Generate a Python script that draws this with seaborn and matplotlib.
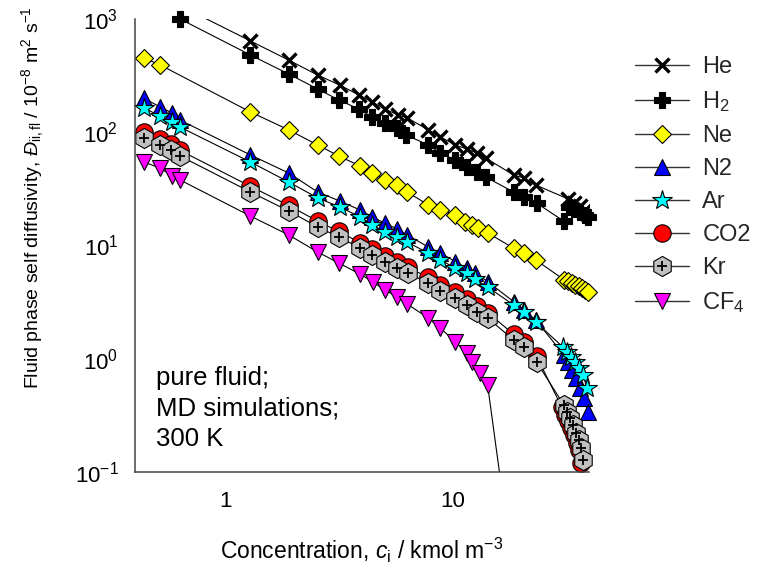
import matplotlib
matplotlib.use("Agg")
import matplotlib.pyplot as plt
from matplotlib.ticker import FixedLocator, FixedFormatter, LogLocator, NullFormatter
from matplotlib.lines import Line2D
import seaborn as sns

sns.set_theme(style="white")
plt.rcParams["font.family"] = ["Liberation Sans", "DejaVu Sans"]
plt.rcParams["mathtext.fontset"] = "custom"
plt.rcParams["mathtext.rm"] = "Liberation Sans"
plt.rcParams["mathtext.it"] = "Liberation Sans:italic"
plt.rcParams["mathtext.bf"] = "Liberation Sans:bold"
plt.rcParams["mathtext.default"] = "regular"

# ---- self diffusivities (10^-8 m2/s) vs concentration (kmol/m3), 300 K ----
he_c = [0.632, 1.29, 1.90, 2.55, 3.19, 3.88, 4.43, 5.05, 5.77, 6.33, 7.83, 8.85,
        10.3, 11.6, 12.8, 14.0, 18.6, 20.6, 23.3, 32.3, 34.3, 36.5, 38.4, 39.5]
he_d = [1310, 640, 434, 320, 261, 213, 185, 160, 142, 134, 105, 90.8,
        77.2, 71.1, 65.7, 59.3, 42.0, 39.5, 34.2, 25.8, 23.7, 22.3, 20.5, 18.9]

h2_c = [0.632, 1.29, 1.90, 2.55, 3.16, 3.88, 4.43, 5.05, 5.71, 6.26, 7.83, 8.85,
        10.3, 11.6, 12.8, 14.0, 18.6, 20.6, 23.5, 31.0, 32.6, 34.5, 36.5, 38.4, 39.5]
h2_d = [1000, 481, 327, 241, 193, 160, 136, 121, 109, 94.6, 77.2, 65.7,
        56.9, 49.3, 44.6, 40.3, 29.7, 26.8, 23.7, 16.4, 22.0, 20.8, 19.6, 18.6, 17.8]

ne_c = [0.438, 0.516, 1.29, 1.90, 2.55, 3.16, 3.92, 4.43, 5.05, 5.71, 6.33, 7.83,
        8.85, 10.3, 11.4, 12.2, 13.0, 14.3, 18.6, 20.6, 23.3,
        31.0, 32.3, 33.6, 34.8, 36.0, 37.2, 38.3, 39.4]
ne_d = [453, 393, 151, 105, 77.2, 61.7, 50.4, 43.7, 37.9, 34.2, 29.7, 22.8,
        20.6, 18.6, 16.1, 15.2, 14.3, 12.9, 9.5, 8.6, 7.45,
        5.0, 4.85, 4.7, 4.5, 4.35, 4.2, 4.05, 3.85]

n2_c = [0.438, 0.516, 0.583, 0.632, 1.29, 1.90, 2.55, 3.19, 3.92, 4.43, 5.05, 5.71,
        6.33, 7.83, 8.85, 10.3, 11.6, 12.6, 14.3, 18.6, 20.6, 23.3,
        31.0, 32.3, 33.6, 35.0, 36.5, 38.0, 39.6]
n2_d = [200, 167, 148, 128, 63.0, 43.7, 29.7, 24.7, 20.6, 17.9, 15.7, 14.0,
        12.4, 9.7, 8.6, 7.2, 6.3, 5.7, 4.8, 3.2, 2.7, 2.2,
        1.08, 0.935, 0.80, 0.68, 0.555, 0.45, 0.34]

ar_c = [0.438, 0.516, 0.583, 0.632, 1.29, 1.90, 2.55, 3.19, 3.92, 4.43, 5.05, 5.71,
        6.33, 7.83, 8.85, 10.3, 11.6, 12.6, 14.3, 18.6, 20.6, 23.3,
        30.7, 32.0, 33.3, 34.7, 36.1, 37.6, 39.2]
ar_d = [164, 139, 123, 111, 54.6, 36.4, 26.3, 21.9, 17.9, 15.2, 13.2, 11.9,
        10.7, 8.59, 7.45, 6.33, 5.71, 5.06, 4.30, 2.99, 2.59, 2.11,
        1.27, 1.15, 1.04, 0.935, 0.83, 0.72, 0.55]

co2_c = [0.438, 0.516, 0.577, 0.632, 1.29, 1.90, 2.55, 3.16, 3.92, 4.43, 5.05, 5.71,
         6.38, 7.83, 8.85, 10.3, 11.6, 12.9, 14.3, 18.6, 20.6, 23.5,
         30.4, 31.3, 32.2, 33.2, 34.2, 35.3, 36.2, 36.9]
co2_d = [100, 86.5, 78.1, 69.1, 33.3, 22.6, 16.4, 13.3, 10.6, 9.23, 8.0, 7.09,
         6.40, 5.22, 4.44, 3.85, 3.35, 2.90, 2.56, 1.65, 1.42, 1.05,
         0.372, 0.321, 0.282, 0.245, 0.211, 0.182, 0.155, 0.12]

kr_c = [0.438, 0.516, 0.577, 0.632, 1.29, 1.90, 2.55, 3.16, 3.92, 4.43, 5.05, 5.71,
        6.38, 7.83, 8.85, 10.3, 11.6, 12.9, 14.3, 18.6, 20.6, 23.5,
        31.0, 31.9, 32.9, 33.9, 34.9, 36.0, 36.9, 37.6]
kr_d = [89.0, 77.2, 69.7, 61.7, 29.7, 20.2, 14.6, 11.9, 9.5, 8.24, 7.14, 6.33,
        5.71, 4.66, 3.96, 3.44, 2.99, 2.59, 2.29, 1.47, 1.27, 0.935,
        0.391, 0.338, 0.297, 0.258, 0.222, 0.192, 0.163, 0.127]

cf4_c = [0.438, 0.516, 0.583, 0.632, 1.29, 1.90, 2.55, 3.16, 3.92, 4.47, 5.05, 5.71,
         6.33, 7.83, 8.85, 10.3, 11.6, 12.2, 13.3, 14.3, 16.9]
cf4_d = [54.6, 48.3, 41.1, 37.9, 18.2, 12.4, 8.77, 7.0, 5.6, 4.76, 4.05, 3.51,
         3.04, 2.29, 1.87, 1.41, 1.12, 0.935, 0.748, 0.586, 0.05]

labels = ["He", "H$_2$", "Ne", "N2", "Ar", "CO2", "Kr", "CF$_4$"]

# marker style per species: (marker, face colour, size, edge width)
styles = {
    "He":     ("x", "black", 10.5, 2.4),
    "H$_2$":  ("P", "black", 11.0, 0.8),
    "Ne":     ("D", "#ffff00", 9.0, 0.8),
    "N2":     ("^", "#0000ff", 11.5, 0.8),
    "Ar":     ("*", "#00ffff", 15.0, 0.8),
    "CO2":    ("o", "#ff0000", 12.5, 0.8),
    "Kr":     ("h", "#c0c0c0", 14.5, 0.8),
    "CF$_4$": ("v", "#ff00ff", 12.0, 0.8),
}
data = {
    "He": (he_c, he_d), "H$_2$": (h2_c, h2_d), "Ne": (ne_c, ne_d),
    "N2": (n2_c, n2_d), "Ar": (ar_c, ar_d), "CO2": (co2_c, co2_d),
    "Kr": (kr_c, kr_d), "CF$_4$": (cf4_c, cf4_d),
}
# series whose runs leave the plotted range are clipped at the frame
clipped = {"He", "CF$_4$"}

fig = plt.figure(figsize=(7.69, 5.69), dpi=100)
ax = fig.add_axes([135 / 769, 1 - 472 / 569, 454 / 769, 453 / 569])

handles = []
for lab in labels:
    c, d = data[lab]
    m, fc, ms, mew = styles[lab]
    sns.lineplot(x=c, y=d, ax=ax, sort=False, estimator=None, color="black",
                 linewidth=0.8, marker=m, markersize=ms, markerfacecolor=fc,
                 markeredgecolor="black", markeredgewidth=mew, legend=False,
                 clip_on=(lab in clipped))
    h = Line2D([], [], color="#333333", linewidth=1.0, marker=m, markersize=ms,
               markerfacecolor=fc, markeredgecolor="black", markeredgewidth=mew)
    if lab == "Kr":
        sns.scatterplot(x=c, y=d, ax=ax, marker="+", color="black", s=45,
                        linewidth=1.3, legend=False, zorder=3, clip_on=False)
        hp = Line2D([], [], linestyle="none", marker="+", markersize=6.7,
                    color="black", markeredgewidth=1.3)
        h = (h, hp)
    handles.append(h)

ax.set_xscale("log")
ax.set_yscale("log")
ax.set_xlim(0.4, 40)
ax.set_ylim(0.1, 1000)

ax.xaxis.set_major_locator(FixedLocator([1, 10]))
ax.xaxis.set_major_formatter(FixedFormatter(["1", "10"]))
ax.xaxis.set_minor_locator(LogLocator(base=10, subs=range(2, 10)))
ax.xaxis.set_minor_formatter(NullFormatter())
ax.yaxis.set_major_locator(LogLocator(base=10, numticks=10))
ax.yaxis.set_minor_locator(LogLocator(base=10, subs=range(2, 10), numticks=20))
ax.yaxis.set_minor_formatter(NullFormatter())

axis_col = "#444444"
for s in ["top", "right"]:
    ax.spines[s].set_visible(False)
for s in ["left", "bottom"]:
    ax.spines[s].set_color(axis_col)
    ax.spines[s].set_linewidth(1.1)
ax.tick_params(which="both", direction="in", colors=axis_col, top=False, right=False)
ax.tick_params(which="major", length=7, width=1.0)
ax.tick_params(which="minor", length=5, width=0.9)
ax.tick_params(axis="x", which="major", pad=14, labelsize=16, labelcolor="black")
ax.tick_params(axis="y", which="major", pad=12, labelsize=16, labelcolor="black")

ax.set_xlabel("Concentration, $\\mathit{c}_\\mathrm{i}$ / kmol m$^{-3}$",
              fontsize=16.5, color="black")
ax.xaxis.set_label_coords(0.5, -0.14)
ax.set_ylabel("Fluid phase self diffusivity, $\\mathit{Đ}_\\mathrm{ii,fl}$ / 10$^{-8}$ m$^2$ s$^{-1}$",
              fontsize=14, color="black")
ax.yaxis.set_label_coords(-0.195, 0.605)

ax.text(0.046, 0.235, "pure fluid;\nMD simulations;\n300 K", transform=ax.transAxes,
        fontsize=18.5, va="top", ha="left", linespacing=1.35, color="black")

ax.legend(handles, labels, loc="upper left", bbox_to_anchor=(635 / 769, 1 - 56 / 569),
          bbox_transform=fig.transFigure, frameon=False, fontsize=17,
          handlelength=2.3, handletextpad=0.55, labelspacing=0.47,
          borderaxespad=0, borderpad=0)

fig.savefig("out.png", dpi=100)
